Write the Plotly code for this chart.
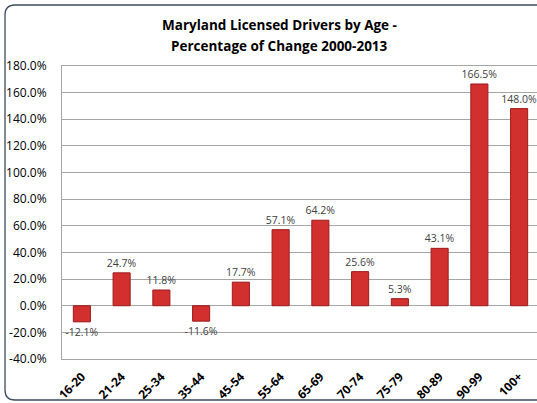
import plotly.graph_objects as go

categories = ["16-20", "21-24", "25-34", "35-44", "45-54", "55-64",
              "65-69", "70-74", "75-79", "80-89", "90-99", "100+"]
pct_change = [-12.1, 24.7, 11.8, -11.6, 17.7, 57.1, 64.2, 25.6, 5.3, 43.1, 166.5, 148.0]
y_ticks = [-40, -20, 0, 20, 40, 60, 80, 100, 120, 140, 160, 180]
title_line1 = "Maryland Licensed Drivers by Age -"
title_line2 = "Percentage of Change 2000-2013"

W, H = 537, 403
ML, MR, MT, MB = 62, 0, 66, 44
PW, PH = W - ML - MR, H - MT - MB


def px2paper(x, y):
    return (x - ML) / PW, (H - MB - y) / PH


def rounded_frame(x0, y0, x1, y1, r):
    def P(x, y):
        a, b = px2paper(x, y)
        return f"{a:.5f},{b:.5f}"
    return (f"M {P(x0 + r, y0)} L {P(x1 - r, y0)} Q {P(x1, y0)} {P(x1, y0 + r)} "
            f"L {P(x1, y1 - r)} Q {P(x1, y1)} {P(x1 - r, y1)} "
            f"L {P(x0 + r, y1)} Q {P(x0, y1)} {P(x0, y1 - r)} "
            f"L {P(x0, y0 + r)} Q {P(x0, y0)} {P(x0 + r, y0)} Z")


fig = go.Figure()
fig.add_trace(go.Bar(
    x=categories,
    y=pct_change,
    width=0.43,
    marker=dict(color="#d2302e", line=dict(color="#9c1b1b", width=1)),
    text=[f"{v:.1f}%" for v in pct_change],
    textposition="outside",
    constraintext="none",
    cliponaxis=False,
    textfont=dict(family="Open Sans", size=10.5, color="#404040"),
    hoverinfo="x+y",
))

fig.add_shape(type="path", xref="paper", yref="paper",
              path=rounded_frame(5, 5, 548, 400, 10),
              line=dict(color="#3d4b5c", width=1.3), layer="above")

title_font = dict(family="Open Sans", size=13.5, color="#000000", weight="bold")
fig.add_annotation(text=title_line1, xref="paper", yref="paper",
                   x=px2paper(279.5, 0)[0], y=px2paper(0, 25)[1],
                   xanchor="center", yanchor="middle", showarrow=False,
                   font=title_font)
fig.add_annotation(text=title_line2, xref="paper", yref="paper",
                   x=px2paper(279.5, 0)[0], y=px2paper(0, 46)[1],
                   xanchor="center", yanchor="middle", showarrow=False,
                   font=title_font)

fig.update_layout(
    width=W, height=H,
    margin=dict(l=ML, r=MR, t=MT, b=MB),
    paper_bgcolor="white",
    plot_bgcolor="white",
    showlegend=False,
    xaxis=dict(
        range=[-0.5, 11.45],
        tickangle=-45,
        tickfont=dict(family="Open Sans", size=12, color="#000000", weight="bold"),
        showgrid=False,
        showline=True,
        mirror=True,
        linecolor="#a6a6a6",
        linewidth=1,
        ticklabelstandoff=5,
        fixedrange=True,
    ),
    yaxis=dict(
        range=[-40, 180],
        tickvals=y_ticks,
        ticktext=[f"{v:.1f}%" for v in y_ticks],
        tickfont=dict(family="Open Sans", size=12, color="#000000"),
        showgrid=True,
        gridcolor="#a6a6a6",
        gridwidth=1,
        zeroline=True,
        zerolinecolor="#a6a6a6",
        zerolinewidth=1,
        showline=True,
        linecolor="#a6a6a6",
        linewidth=1,
        ticklabelstandoff=12,
        fixedrange=True,
    ),
)

fig.write_html("out.html", config={"displayModeBar": False},
               post_script="document.body.style.margin='0px';document.body.style.overflow='hidden';")
